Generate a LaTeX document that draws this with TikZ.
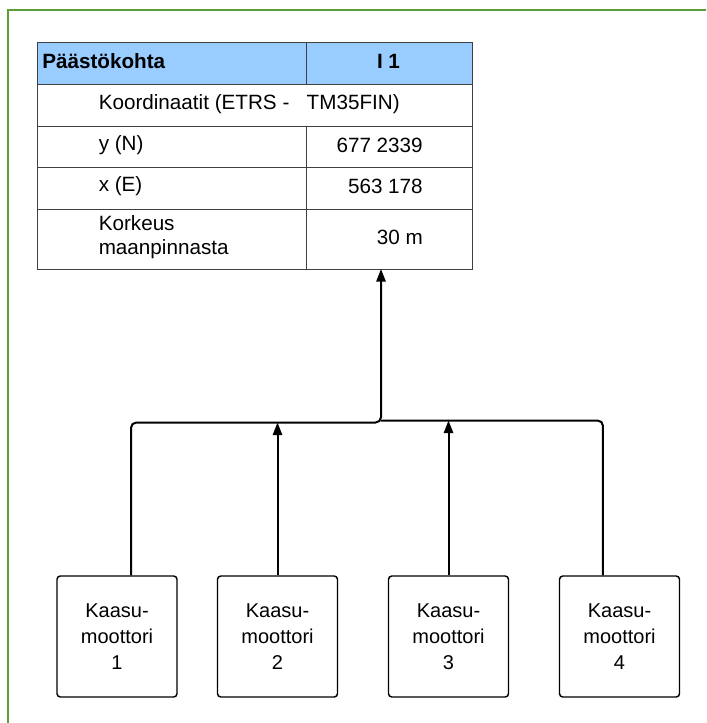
\documentclass[tikz,border=0pt]{standalone}
\usepackage{fontspec}
\setmainfont{Liberation Sans}
\usetikzlibrary{arrows.meta}
\definecolor{framegreen}{RGB}{91,158,58}
\definecolor{hdrblue}{RGB}{153,204,255}
\newcommand\dgfont{\fontsize{15.5pt}{18pt}\selectfont}
\begin{document}
\begin{tikzpicture}[x=0.75pt,y=-0.75pt,
  cell/.style={draw=black!75, line width=0.8pt, inner sep=0pt, anchor=north west},
  txt/.style={inner sep=0pt, font=\dgfont},
  btxt/.style={inner sep=0pt, font=\dgfont\bfseries},
  engine/.style={draw, line width=1.1pt, rounded corners=2.5pt, minimum width=90pt,
    minimum height=90.75pt, align=center, inner sep=0pt,
    font=\fontsize{15pt}{19.5pt}\selectfont},
  conn/.style={line width=1.5pt, rounded corners=4pt},
  arr/.style={-{Triangle[length=9.5pt,width=7pt]}}]
\useasboundingbox (0,0) rectangle (706,723);
% frame
\begin{scope}
\clip (0,0) rectangle (706,723);
\draw[framegreen, line width=1.5pt] (7.5,730) -- (7.5,10) -- (715,10);
\end{scope}
% table cells
\node[cell, fill=hdrblue, minimum width=201.75pt, minimum height=31.5pt] (h1) at (37,42) {};
\node[cell, fill=hdrblue, minimum width=124.5pt, minimum height=31.5pt] (h2) at (306,42) {};
\node[cell, minimum width=326.25pt, minimum height=31.5pt] (r1) at (37,84) {};
\node[cell, minimum width=201.75pt, minimum height=30.75pt] (r2a) at (37,126) {};
\node[cell, minimum width=124.5pt, minimum height=30.75pt] (r2b) at (306,126) {};
\node[cell, minimum width=201.75pt, minimum height=31.5pt] (r3a) at (37,167) {};
\node[cell, minimum width=124.5pt, minimum height=31.5pt] (r3b) at (306,167) {};
\node[cell, minimum width=201.75pt, minimum height=45pt] (r4a) at (37,209) {};
\node[cell, minimum width=124.5pt, minimum height=45pt] (r4b) at (306,209) {};
% table texts
\node[btxt, anchor=west] (th1) at (42,61) {Päästökohta};
\node[btxt] (th2) at (388.5,61) {I 1};
\node[txt, anchor=west] (tr1) at (98.5,104) {Koordinaatit (ETRS -\hspace{13pt}TM35FIN)};
\node[txt, anchor=west] (tr2a) at (98.5,145) {y (N)};
\node[txt, anchor=east] (tr2b) at (423,145) {677 2339};
\node[txt, anchor=west] (tr3a) at (98.5,186) {x (E)};
\node[txt, anchor=east] (tr3b) at (423,186) {563 178};
\node[txt, anchor=west, align=left] (tr4a) at (98.5,237) {Korkeus\\maanpinnasta};
\node[txt, anchor=east] (tr4b) at (423,237) {30 m};
% engines
\node[engine] (e1) at (117,636.5) {Kaasu-\\moottori\\1};
\node[engine] (e2) at (277.5,636.5) {Kaasu-\\moottori\\2};
\node[engine] (e3) at (448.5,636.5) {Kaasu-\\moottori\\3};
\node[engine] (e4) at (619.5,636.5) {Kaasu-\\moottori\\4};
% junction coordinates
\coordinate (tin) at (381,269);
\coordinate (jl) at (381,422.5);
\coordinate (jr) at (381,420.5);
% connectors
\draw[conn, arr] ([xshift=10.5pt]e1.north) |- (jl) -- (tin);
\draw[conn] ([xshift=-12.4pt]e4.north) |- (jr);
\draw[conn, arr] (e2.north) -- (e2.north |- jl);
\draw[conn, arr] (e3.north) -- (e3.north |- jr);
\end{tikzpicture}
\end{document}
